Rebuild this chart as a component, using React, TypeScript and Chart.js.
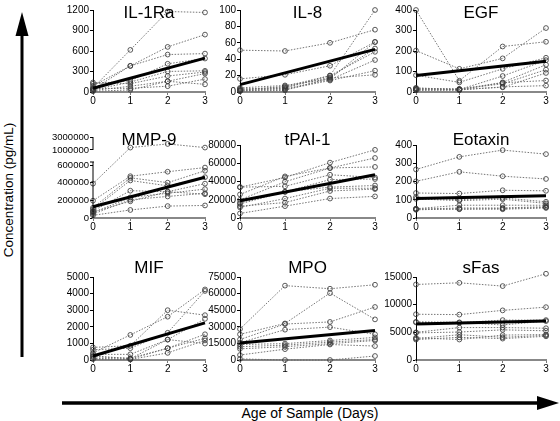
import React, { useEffect, useRef } from "react";
import { Chart, registerables } from "chart.js";
Chart.register(...registerables);

const FONT = "'Liberation Sans', Arial, Helvetica, sans-serif";

const days = [0, 1, 2, 3];

// ---------- data ----------
const il1raTicks = [0, 300, 600, 900, 1200];
const il1raSeries = [
  [60, 616, 1178, 1164],
  [90, 382, 660, 840],
  [40, 382, 548, 562],
  [120, 166, 413, 490],
  [30, 144, 301, 310],
  [140, 121, 234, 292],
  [20, 85, 157, 270],
  [50, 54, 85, 189],
  [10, 31, 157, 112],
];
const il1raFit = [55, 495];

const il8Ticks = [0, 20, 40, 60, 80, 100];
const il8Series = [
  [51, 50, 60, 76],
  [16, 21, 32, 61],
  [2, 7, 20, 100],
  [3, 6, 18, 53],
  [1, 5, 20, 49],
  [4, 4, 15, 39],
  [2, 3, 14, 26],
  [1, 2, 17, 21],
  [5, 8, 16, 61],
];
const il8Fit = [9, 52];

const egfTicks = [0, 100, 200, 300, 400];
const egfSeries = [
  [400, 55, 222, 245],
  [202, 113, 164, 312],
  [82, 47, 113, 167],
  [20, 12, 78, 155],
  [12, 9, 47, 133],
  [15, 14, 40, 109],
  [10, 12, 23, 93],
  [18, 15, 45, 56],
  [8, 10, 25, 31],
];
const egfFit = [80, 150];

const mmp9Ticks = [0, 200000, 400000, 600000, 1000000, 3000000];
const mmp9Series = [
  [389000, 1370000, 1930000, 1370000],
  [196000, 473000, 524000, 571000],
  [116000, 455000, 400000, 535000],
  [98000, 425000, 364000, 462000],
  [80000, 309000, 298000, 389000],
  [60000, 233000, 280000, 327000],
  [44000, 207000, 244000, 280000],
  [70000, 189000, 298000, 269000],
  [30000, 91000, 135000, 142000],
];
const mmp9Fit = [127000, 462000];

const tpaiTicks = [0, 20000, 40000, 60000, 80000];
const tpaiSeries = [
  [33800, 44400, 60700, 74700],
  [25800, 45600, 54800, 65800],
  [19900, 39700, 54800, 56000],
  [33800, 34700, 47400, 44400],
  [16900, 28700, 42100, 42700],
  [15400, 28700, 33800, 35600],
  [11600, 21300, 32600, 32600],
  [13000, 16900, 29600, 31700],
  [5000, 13000, 21300, 23700],
];
const tpaiFit = [19000, 47400];

const eotaxinTicks = [0, 100, 200, 300, 400];
const eotaxinSeries = [
  [266, 335, 372, 350],
  [201, 253, 229, 214],
  [137, 134, 152, 149],
  [115, 100, 110, 89],
  [105, 95, 103, 80],
  [51, 70, 70, 70],
  [48, 55, 55, 62],
  [50, 48, 52, 58],
  [45, 50, 48, 55],
];
const eotaxinFit = [107, 122];

const mifTicks = [0, 1000, 2000, 3000, 4000, 5000];
const mifSeries = [
  [430, 1510, 2610, 4250],
  [760, 860, 3000, 2700],
  [620, 710, 1640, 4160],
  [340, 340, 1230, 2480],
  [190, 110, 710, 1550],
  [100, 55, 710, 1310],
  [50, 30, 430, 1180],
  [250, 80, 1230, 990],
];
const mifFit = [240, 2240];

const mpoTicks = [0, 15000, 30000, 45000, 60000, 75000];
const mpoSeries = [
  [28000, 67200, 64400, 68000],
  [23200, 33000, 60500, 36700],
  [18500, 32500, 34400, 47900],
  [15700, 27400, 29700, 23200],
  [14000, 14800, 17600, 20400],
  [12000, 13400, 16200, 18500],
  [10100, 12000, 14800, 17600],
  [4500, 9800, 14000, 12600],
  [1000, 0, 0, 3600],
];
const mpoFit = [15400, 26600];

const sfasTicks = [0, 5000, 10000, 15000];
const sfasSeries = [
  [13650, 13950, 13360, 15590],
  [8270, 8200, 8970, 9550],
  [6800, 6740, 7210, 7210],
  [6900, 6800, 6330, 7030],
  [5000, 5860, 5860, 5740],
  [4900, 5050, 5450, 5280],
  [3870, 4570, 4100, 4450],
  [3690, 4100, 3870, 4280],
  [4000, 3700, 4500, 4600],
];
const sfasFit = [6500, 7030];

// ---------- layout ----------
const COL_LEFT = [93, 240, 416];
const COL_WIDTH = [112, 135, 130];
const ROW_TOP = [10, 145, 277];
const ROW_BOTTOM = [92, 218, 360];
const TITLE_Y = [13, 140, 268];
const YW = [52, 46, 46];
const PT = 22;
const PR = 10;
const XH = 20;

type PanelDef = {
  title: string;
  series: number[][];
  fit: number[];
  ticks: number[];
  col: number;
  row: number;
  broken?: boolean;
  extraTop?: number;
};

const panels: PanelDef[] = [
  { title: "IL-1Ra", series: il1raSeries, fit: il1raFit, ticks: il1raTicks, col: 0, row: 0 },
  { title: "IL-8", series: il8Series, fit: il8Fit, ticks: il8Ticks, col: 1, row: 0 },
  { title: "EGF", series: egfSeries, fit: egfFit, ticks: egfTicks, col: 2, row: 0 },
  { title: "MMP-9", series: mmp9Series, fit: mmp9Fit, ticks: mmp9Ticks, col: 0, row: 1, broken: true, extraTop: 8 },
  { title: "tPAI-1", series: tpaiSeries, fit: tpaiFit, ticks: tpaiTicks, col: 1, row: 1 },
  { title: "Eotaxin", series: eotaxinSeries, fit: eotaxinFit, ticks: eotaxinTicks, col: 2, row: 1 },
  { title: "MIF", series: mifSeries, fit: mifFit, ticks: mifTicks, col: 0, row: 2 },
  { title: "MPO", series: mpoSeries, fit: mpoFit, ticks: mpoTicks, col: 1, row: 2 },
  { title: "sFas", series: sfasSeries, fit: sfasFit, ticks: sfasTicks, col: 2, row: 2 },
];

// broken axis transform for MMP-9 (lower 0..600000, upper 1e6..3e6)
const BREAK_LOW = 600000;
const BREAK_UP_START = 770000;
const BREAK_UP_SPAN = 147000;
function brokenDisp(v: number): number {
  if (v <= BREAK_LOW) return v;
  if (v <= 1000000) return BREAK_LOW + ((v - BREAK_LOW) / 400000) * (BREAK_UP_START - BREAK_LOW);
  return BREAK_UP_START + ((v - 1000000) / 2000000) * BREAK_UP_SPAN;
}

const titlePlugin = {
  id: "panelTitle",
  afterDraw(chart: any, _args: any, opts: any) {
    const { ctx, chartArea } = chart;
    ctx.save();
    ctx.font = `17px ${FONT}`;
    ctx.fillStyle = "#000";
    ctx.textAlign = "center";
    ctx.textBaseline = "middle";
    ctx.fillText(opts.text, (chartArea.left + chartArea.right) / 2, chartArea.top + opts.dy);
    ctx.restore();
  },
};

const brokenAxisPlugin = {
  id: "brokenAxis",
  afterDraw(chart: any, _args: any, opts: any) {
    if (!opts.enabled) return;
    const { ctx, chartArea, scales } = chart;
    const y = scales.y;
    const x0 = chartArea.left;
    ctx.save();
    ctx.strokeStyle = "#000";
    ctx.lineWidth = 1;
    ctx.beginPath();
    const yLowTop = y.getPixelForValue(brokenDisp(680000));
    ctx.moveTo(x0, y.getPixelForValue(0));
    ctx.lineTo(x0, yLowTop);
    ctx.moveTo(x0 - 3, yLowTop);
    ctx.lineTo(x0 + 1, yLowTop);
    ctx.moveTo(x0, y.getPixelForValue(brokenDisp(1000000)));
    ctx.lineTo(x0, y.getPixelForValue(brokenDisp(3000000)));
    ctx.stroke();
    ctx.restore();
  },
};

function PanelChart({ def }: { def: PanelDef }) {
  const ref = useRef<HTMLCanvasElement | null>(null);
  const yw = YW[def.col];
  const plotTop = ROW_TOP[def.row] - (def.extraTop || 0);
  const plotH = ROW_BOTTOM[def.row] - plotTop;
  const left = COL_LEFT[def.col] - yw;
  const top = plotTop - PT;
  const w = yw + COL_WIDTH[def.col] + PR;
  const h = PT + plotH + XH;

  useEffect(() => {
    const tf = def.broken ? brokenDisp : (v: number) => v;
    const datasets: any[] = def.series.map((s) => ({
      data: s.map((v, i) => ({ x: days[i], y: tf(v) })),
      borderColor: "#666",
      borderWidth: 0.9,
      borderDash: [1.5, 1.5],
      pointRadius: 2.4,
      pointBorderWidth: 0.8,
      pointBorderColor: "#333",
      pointBackgroundColor: "rgba(255,255,255,0)",
      clip: false,
      order: 2,
      tension: 0,
    }));
    datasets.push({
      data: [
        { x: days[0], y: tf(def.fit[0]) },
        { x: days[days.length - 1], y: tf(def.fit[1]) },
      ],
      borderColor: "#000",
      borderWidth: 3,
      pointRadius: 0,
      clip: false,
      order: 0,
    });
    const yMax = tf(def.ticks[def.ticks.length - 1]);
    const chart = new Chart(ref.current as HTMLCanvasElement, {
      type: "line",
      data: { datasets },
      plugins: [titlePlugin as any, brokenAxisPlugin as any],
      options: {
        animation: false,
        responsive: false,
        maintainAspectRatio: false,
        layout: { padding: { top: PT, right: PR, left: 0, bottom: 0 } },
        plugins: {
          legend: { display: false },
          tooltip: { enabled: false },
          panelTitle: { text: def.title, dy: TITLE_Y[def.row] - plotTop },
          brokenAxis: { enabled: !!def.broken },
        } as any,
        scales: {
          x: {
            type: "linear",
            min: 0,
            max: 3,
            afterBuildTicks: (s: any) => {
              s.ticks = days.map((v) => ({ value: v }));
            },
            afterFit: (s: any) => {
              s.height = XH;
            },
            ticks: {
              font: { family: FONT, size: 10 },
              color: "#000",
              padding: 0,
              maxRotation: 0,
              autoSkip: false,
              callback: (v: any) => String(v),
            },
            grid: {
              display: true,
              drawOnChartArea: false,
              drawTicks: true,
              tickLength: 3,
              color: "#777",
              lineWidth: 1,
            },
            border: { display: true, color: "#888", width: 2 },
          },
          y: {
            type: "linear",
            min: 0,
            max: yMax,
            afterBuildTicks: (s: any) => {
              s.ticks = def.ticks.map((v) => ({ value: tf(v) }));
            },
            afterFit: (s: any) => {
              s.width = yw;
            },
            ticks: {
              font: { family: FONT, size: def.broken ? 9.5 : 10 },
              color: "#000",
              padding: 1,
              autoSkip: false,
              callback: (_v: any, idx: number) => String(def.ticks[idx]),
            },
            grid: {
              display: true,
              drawOnChartArea: false,
              drawTicks: true,
              tickLength: 3,
              color: "#000",
              lineWidth: 1,
            },
            border: { display: !def.broken, color: "#000", width: 1 },
          },
        },
      } as any,
    });
    return () => chart.destroy();
  }, []);

  return (
    <canvas
      ref={ref}
      width={w}
      height={h}
      style={{ position: "absolute", left, top, width: w, height: h }}
    />
  );
}

export default function App() {
  return (
    <div
      style={{
        position: "absolute",
        left: 0,
        top: 0,
        width: 560,
        height: 421,
        background: "#fff",
        overflow: "hidden",
      }}
    >
      <svg width={560} height={421} style={{ position: "absolute", left: 0, top: 0 }}>
        <line x1={22} y1={34} x2={22} y2={357} stroke="#000" strokeWidth={3} />
        <polygon points="15.5,36 28.5,36 22,12" fill="#000" />
        <line x1={62} y1={403} x2={540} y2={403} stroke="#000" strokeWidth={3.5} />
        <polygon points="537,396 537,410 559,403" fill="#000" />
        <text
          transform="translate(13,190) rotate(-90)"
          textAnchor="middle"
          fontFamily={FONT}
          fontSize={13.5}
          fill="#000"
        >
          Concentration (pg/mL)
        </text>
        <text x={310} y={418} textAnchor="middle" fontFamily={FONT} fontSize={14} fill="#000">
          Age of Sample (Days)
        </text>
      </svg>
      {panels.map((p) => (
        <PanelChart key={p.title} def={p} />
      ))}
    </div>
  );
}
